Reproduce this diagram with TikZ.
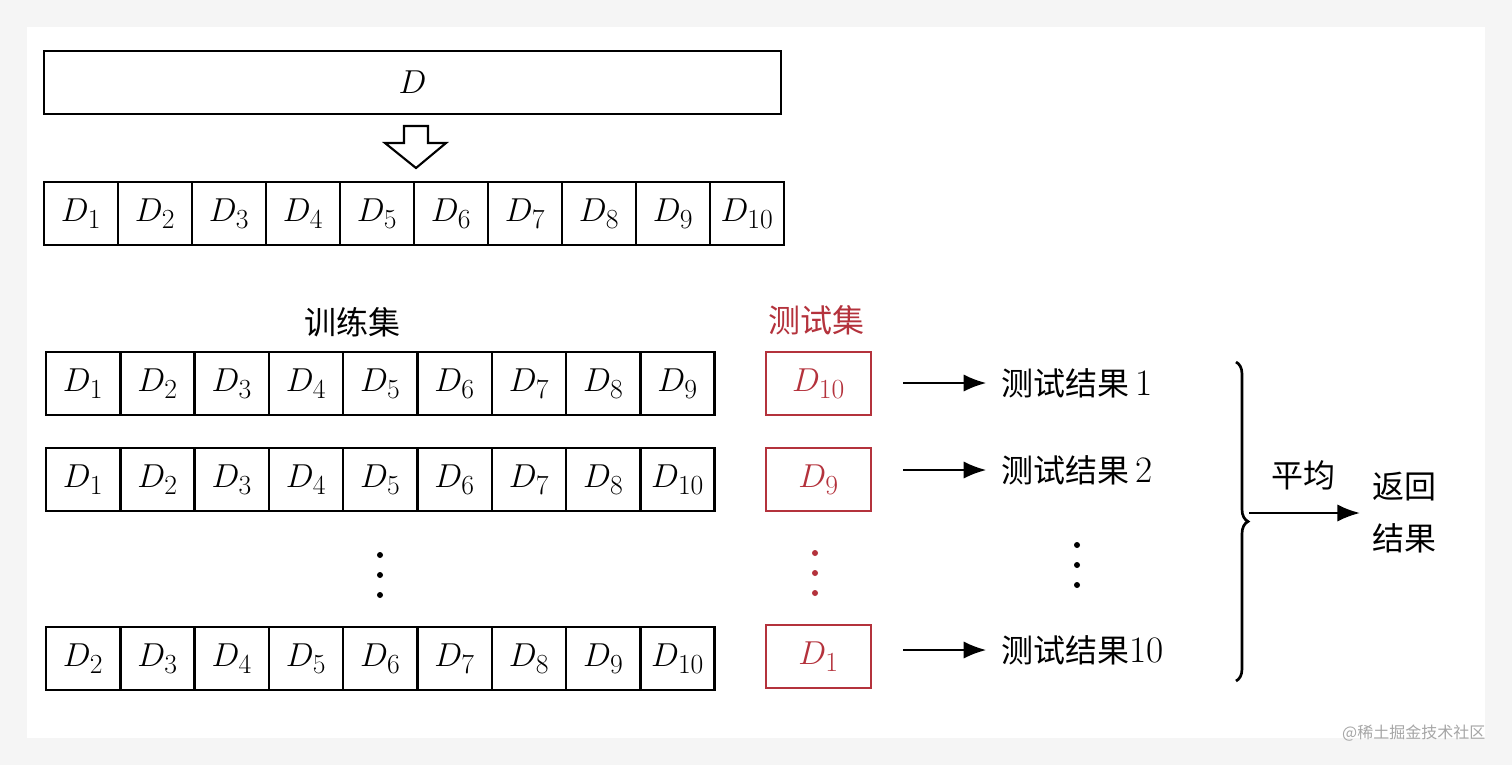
\documentclass[tikz,border=0pt]{standalone}
\usepackage{fontspec}
\newfontfamily\cjk{Noto Sans CJK SC}
\usetikzlibrary{decorations.pathreplacing,arrows.meta}
\definecolor{tred}{RGB}{180,50,60}
\begin{document}
\begin{tikzpicture}[x=0.75pt,y=-0.75pt,
  cell/.style={draw,line width=1.8pt,minimum height=47.25pt,inner sep=0pt,font=\fontsize{30}{30}\selectfont},
  rcell/.style={draw=tred,line width=1.8pt,minimum height=47.25pt,minimum width=78.75pt,inner sep=0pt,text=tred,font=\fontsize{30}{30}\selectfont},
  zh/.style={font=\cjk\fontsize{24}{28}\selectfont},
  arr/.style={-{Latex[length=17pt,width=13pt]},line width=1.9pt},
  dot/.style={circle,fill,inner sep=0pt,minimum size=4.5pt}]
\useasboundingbox (0,0) rectangle (1512,765);
\fill[gray!8] (0,0) rectangle (1512,765);
\fill[white] (27,27) rectangle (1485,738);
\node[cell,minimum width=552.75pt] (D) at (412.5,82.5) {$D$};
\draw[line width=1.6pt] (404,126) -- (428,126) -- (428,143) -- (446,143) -- (416,168) -- (385,143) -- (404,143) -- cycle;
\foreach \i in {1,...,10} {
  \node[cell,minimum width=55.5pt] (a\i) at ({44+74*(\i-0.5)},213.5) {$D_{\i}$};
}
\node[zh] (train) at (352,322) {训练集};
\node[zh,text=tred] (test) at (816,320) {测试集};
\def\cw{74.3}
\foreach \i in {1,...,9} {
  \node[cell,minimum width=55.7pt] (b\i) at ({46+\cw*(\i-0.5)},383.5) {$D_{\i}$};
}
\foreach \i/\l in {1/1,2/2,3/3,4/4,5/5,6/6,7/7,8/8,9/10} {
  \node[cell,minimum width=55.7pt] (c\i) at ({46+\cw*(\i-0.5)},479.5) {$D_{\l}$};
}
\foreach \i/\l in {1/2,2/3,3/4,4/5,5/6,6/7,7/8,8/9,9/10} {
  \node[cell,minimum width=55.7pt] (d\i) at ({46+\cw*(\i-0.5)},658.5) {$D_{\l}$};
}
\foreach \y [count=\k] in {555,575,595} {
  \node[dot] (p\k) at (380,\y) {};
  \node[dot,fill=tred] (q\k) at (815,\y-2) {};
  \node[dot] (u\k) at (1077,\y-10) {};
}
\node[rcell] (r1) at (818.5,383.5) {$D_{10}$};
\node[rcell] (r2) at (818.5,479.5) {$D_{9}$};
\node[rcell] (r3) at (818.5,656.5) {$D_{1}$};
\node[zh,anchor=west] (t1) at (997,383) {测试结果\,\fontsize{28}{28}\selectfont\rmfamily 1};
\node[zh,anchor=west] (t2) at (997,470) {测试结果\,\fontsize{28}{28}\selectfont\rmfamily 2};
\node[zh,anchor=west] (t3) at (997,650) {测试结果\fontsize{28}{28}\selectfont\rmfamily 10};
\coordinate (s1) at (903,383); \coordinate (s2) at (903,470); \coordinate (s3) at (903,650);
\draw[arr,shorten >=8pt] (s1) -- (t1.west);
\draw[arr,shorten >=8pt] (s2) -- (t2.west);
\draw[arr,shorten >=8pt] (s3) -- (t3.west);
\draw[line width=2pt,decorate,decoration={brace,amplitude=9pt}] (1236,362) -- (1236,681);
\coordinate (bt) at (1249,513);
\node[zh,anchor=west] (ret1) at (1368,487) {返回};
\node[zh,anchor=west] (ret2) at (1368,538) {结果};
\coordinate (re) at (1360,513);
\draw[arr] (bt) -- (re);
\node[zh] (avg) at (1303,475) {平均};
\node[font=\cjk\fontsize{12}{14}\selectfont,text=gray!70,anchor=east] (wm) at (1490,733) {@稀土掘金技术社区};
\end{tikzpicture}
\end{document}
